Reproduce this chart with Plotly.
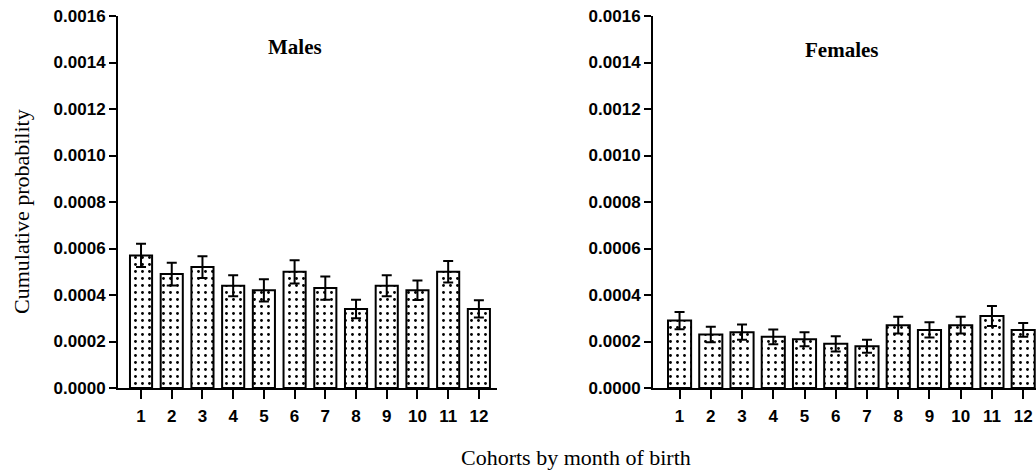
import plotly.graph_objects as go

months = [1, 2, 3, 4, 5, 6, 7, 8, 9, 10, 11, 12]
month_labels = [str(m) for m in months]

males = [0.00057, 0.00049, 0.00052, 0.00044, 0.00042, 0.00050,
         0.00043, 0.00034, 0.00044, 0.00042, 0.00050, 0.00034]
males_err = [0.000050, 0.000049, 0.000047, 0.000045, 0.000048, 0.000050,
             0.000050, 0.000040, 0.000045, 0.000042, 0.000046, 0.000037]

females = [0.00029, 0.00023, 0.00024, 0.00022, 0.00021, 0.00019,
           0.00018, 0.00027, 0.00025, 0.00027, 0.00031, 0.00025]
females_err = [0.000037, 0.000033, 0.000033, 0.000032, 0.000030, 0.000033,
               0.000028, 0.000036, 0.000033, 0.000036, 0.000043, 0.000030]

y_ticks = [0.0, 0.0002, 0.0004, 0.0006, 0.0008, 0.0010, 0.0012, 0.0014, 0.0016]
y_ticktext = [f"{v:.4f}" for v in y_ticks]

W, H = 1036, 471


def px(x):
    return x / W


def py(y):
    return 1 - y / H


tick_font = dict(family="Liberation Sans, Arial, sans-serif", size=17, color="black", weight="bold")
serif = "Liberation Serif, Times New Roman, serif"


def bar_marker():
    return dict(
        color="white",
        line=dict(color="black", width=2),
        pattern=dict(shape=".", fgcolor="black", bgcolor="white",
                     size=7, solidity=0.13, fillmode="replace"),
    )


fig = go.Figure()
fig.add_trace(go.Bar(
    x=months, y=males, width=0.72, marker=bar_marker(),
    error_y=dict(type="data", array=males_err, color="black", thickness=2, width=5),
    xaxis="x", yaxis="y", showlegend=False,
))
fig.add_trace(go.Bar(
    x=months, y=females, width=0.74, marker=bar_marker(),
    error_y=dict(type="data", array=females_err, color="black", thickness=2, width=5),
    xaxis="x2", yaxis="y2", showlegend=False,
))

y_dom = [py(388), py(16)]

common_x = dict(
    tickmode="array", tickvals=months, ticktext=month_labels,
    showline=True, linecolor="black", linewidth=2,
    ticks="outside", ticklen=9, tickwidth=2, tickcolor="black",
    showgrid=False, zeroline=False, tickfont=tick_font, ticklabelstandoff=3,
    ticklabeloverflow="allow",
    automargin=False, fixedrange=True,
)
common_y = dict(
    range=[0, 0.0016], tickmode="array", tickvals=y_ticks, ticktext=y_ticktext,
    showline=True, linecolor="black", linewidth=2,
    ticks="outside", ticklen=7, tickwidth=2, tickcolor="black",
    showgrid=False, zeroline=False, tickfont=tick_font,
    ticklabeloverflow="allow",
    automargin=False, fixedrange=True, domain=y_dom,
)

fig.update_layout(
    width=W, height=H,
    margin=dict(l=0, r=0, t=0, b=0, pad=0),
    paper_bgcolor="white", plot_bgcolor="white",
    xaxis=dict(domain=[px(118), px(497)], range=[0.25, 12.59], anchor="y", **common_x),
    yaxis=dict(anchor="x", **common_y),
    xaxis2=dict(domain=[px(653), 1.0], range=[0.15, 12.41], anchor="y2", **common_x),
    yaxis2=dict(anchor="x2", **common_y),
    annotations=[
        dict(text="<b>Males</b>", x=px(295), y=py(47), xref="paper", yref="paper",
             showarrow=False, font=dict(family=serif, size=21, color="black"),
             xanchor="center", yanchor="middle"),
        dict(text="<b>Females</b>", x=px(841), y=py(50), xref="paper", yref="paper",
             showarrow=False, font=dict(family=serif, size=21, color="black"),
             xanchor="center", yanchor="middle"),
        dict(text="Cumulative probability", x=px(21), y=py(212), xref="paper", yref="paper",
             showarrow=False, textangle=-90, font=dict(family=serif, size=22, color="black"),
             xanchor="center", yanchor="middle"),
        dict(text="Cohorts by month of birth", x=px(576), y=py(457), xref="paper", yref="paper",
             showarrow=False, font=dict(family=serif, size=22, color="black"),
             xanchor="center", yanchor="middle"),
    ],
)

fig.write_html(
    "out.html",
    config={"displayModeBar": False},
    post_script="document.body.style.margin='0';document.body.style.overflow='hidden';",
)
